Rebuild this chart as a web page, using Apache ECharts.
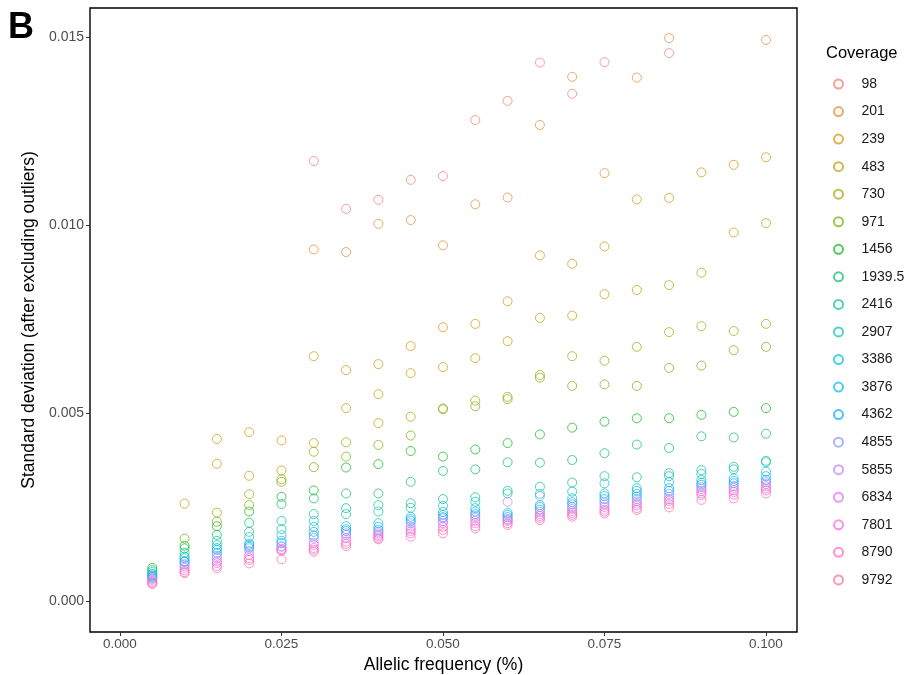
<!DOCTYPE html>
<html>
<head>
<meta charset="utf-8">
<script src="https://cdn.jsdelivr.net/npm/echarts@6/dist/echarts.min.js"></script>
<style>html,body{margin:0;padding:0;background:#fff}#c{width:909px;height:675px}</style>
</head>
<body>
<div id="c"></div>
<script>
const freqs = [0.005,0.010,0.015,0.020,0.025,0.030,0.035,0.040,0.045,0.050,0.055,0.060,0.065,0.070,0.075,0.080,0.085,0.090,0.095,0.100];
const coverages = ['98','201','239','483','730','971','1456','1939.5','2416','2907','3386','3876','4362','4855','5855','6834','7801','8790','9792'];
const xTicks = [0, 0.025, 0.05, 0.075, 0.1];
const yTicks = [0, 0.005, 0.010, 0.015];

const sd98   = [null,null,null,null,null,0.01170,0.01043,0.01067,0.01120,0.01130,0.01279,0.01330,0.01432,0.01349,0.01433,null,0.01457,null,null,null];
const sd201  = [null,null,null,null,null,0.00935,0.00928,0.01003,0.01013,0.00946,0.01055,0.01073,0.01266,0.01394,0.01138,0.01392,0.01497,null,null,0.01492];
const sd239  = [null,null,0.00431,0.00449,0.00427,0.00651,0.00614,0.00630,0.00678,0.00728,0.00737,0.00797,0.00919,0.00897,0.00943,0.01068,0.01072,0.01140,0.01160,0.01180];
const sd483  = [null,null,0.00365,0.00333,0.00347,0.00420,0.00513,0.00550,0.00606,0.00622,0.00646,0.00691,0.00753,0.00759,0.00816,0.00827,0.00840,0.00873,0.00980,0.01005];
const sd730  = [null,0.00259,0.00235,0.00284,0.00324,0.00397,0.00422,0.00473,0.00490,0.00512,0.00533,0.00543,0.00601,0.00651,0.00639,0.00676,0.00715,0.00731,0.00718,0.00737];
const sd971  = [null,0.00166,0.00211,0.00255,0.00317,0.00356,0.00384,0.00415,0.00440,0.00510,0.00518,0.00537,0.00594,0.00572,0.00576,0.00572,0.00620,0.00626,0.00667,0.00676];
const sd1456 = [0.00088,0.00147,0.00199,0.00238,0.00277,0.00294,0.00355,0.00364,0.00399,0.00384,0.00403,0.00420,0.00443,0.00461,0.00477,0.00486,0.00486,0.00495,0.00503,0.00513];
const sd1939 = [0.00082,0.00140,0.00176,0.00208,0.00258,0.00273,0.00286,0.00286,0.00317,0.00346,0.00350,0.00369,0.00368,0.00375,0.00393,0.00416,0.00407,0.00438,0.00435,0.00445];
const sd2416 = [0.00077,0.00128,0.00160,0.00184,0.00213,0.00231,0.00247,0.00255,0.00260,0.00271,0.00276,0.00293,0.00304,0.00315,0.00332,0.00329,0.00340,0.00348,0.00357,0.00373];
const sd2907 = [0.00072,0.00118,0.00149,0.00170,0.00191,0.00213,0.00231,0.00238,0.00248,0.00253,0.00264,0.00286,0.00285,0.00291,0.00313,0.00300,0.00332,0.00338,0.00350,0.00369];
const sd3386 = [0.00069,0.00114,0.00141,0.00153,0.00175,0.00197,0.00199,0.00207,0.00224,0.00237,0.00247,0.00234,0.00255,0.00273,0.00286,0.00293,0.00316,0.00322,0.00326,0.00344];
const sd3876 = [0.00066,0.00106,0.00136,0.00149,0.00160,0.00184,0.00191,0.00197,0.00218,0.00229,0.00238,0.00229,0.00250,0.00263,0.00279,0.00285,0.00300,0.00314,0.00319,0.00332];
const sd4362 = [0.00064,0.00104,0.00128,0.00144,0.00154,0.00174,0.00186,0.00189,0.00213,0.00223,0.00231,0.00223,0.00243,0.00257,0.00271,0.00278,0.00293,0.00309,0.00313,0.00322];
const sd4855 = [0.00061,0.00098,0.00120,0.00140,0.00146,0.00168,0.00180,0.00184,0.00207,0.00220,0.00226,0.00218,0.00279,0.00250,0.00263,0.00271,0.00285,0.00303,0.00306,0.00316];
const sd5855 = [0.00059,0.00093,0.00114,0.00133,0.00144,0.00155,0.00176,0.00180,0.00198,0.00213,0.00221,0.00264,0.00237,0.00245,0.00257,0.00265,0.00277,0.00298,0.00301,0.00311];
const sd6834 = [0.00056,0.00088,0.00106,0.00122,0.00138,0.00149,0.00167,0.00176,0.00191,0.00207,0.00213,0.00216,0.00231,0.00239,0.00250,0.00259,0.00271,0.00293,0.00295,0.00305];
const sd7801 = [0.00051,0.00082,0.00101,0.00114,0.00136,0.00141,0.00158,0.00172,0.00186,0.00197,0.00207,0.00213,0.00226,0.00234,0.00243,0.00254,0.00266,0.00287,0.00290,0.00299];
const sd8790 = [0.00048,0.00077,0.00093,0.00109,0.00133,0.00136,0.00152,0.00167,0.00180,0.00189,0.00199,0.00207,0.00221,0.00229,0.00238,0.00247,0.00258,0.00282,0.00283,0.00294];
const sd9792 = [0.00045,0.00074,0.00087,0.00100,0.00111,0.00131,0.00146,0.00164,0.00171,0.00180,0.00193,0.00202,0.00215,0.00224,0.00233,0.00242,0.00249,0.00269,0.00273,0.00286];

const allSeries = [sd98,sd201,sd239,sd483,sd730,sd971,sd1456,sd1939,sd2416,sd2907,sd3386,sd3876,sd4362,sd4855,sd5855,sd6834,sd7801,sd8790,sd9792];

// ggplot2 default hue palette (HCL, c=100, l=65)
function hcl(h, c, l) {
  const hr = h * Math.PI / 180;
  const u = c * Math.cos(hr), v = c * Math.sin(hr);
  const Xn = 95.047, Yn = 100, Zn = 108.883;
  const den = Xn + 15 * Yn + 3 * Zn;
  const un = 4 * Xn / den, vn = 9 * Yn / den;
  const Y = l > 8 ? Yn * Math.pow((l + 16) / 116, 3) : Yn * l / 903.3;
  const up = u / (13 * l) + un, vp = v / (13 * l) + vn;
  const X = Y * 9 * up / (4 * vp);
  const Z = Y * (12 - 3 * up - 20 * vp) / (4 * vp);
  const x = X / 100, y = Y / 100, z = Z / 100;
  let r = 3.2404542 * x - 1.5371385 * y - 0.4985314 * z;
  let g = -0.9692660 * x + 1.8760108 * y + 0.0415560 * z;
  let b = 0.0556434 * x - 0.2040259 * y + 1.0572252 * z;
  const gam = t => { t = t <= 0.0031308 ? 12.92 * t : 1.055 * Math.pow(t, 1 / 2.4) - 0.055; return Math.round(Math.max(0, Math.min(1, t)) * 255); };
  return 'rgb(' + gam(r) + ',' + gam(g) + ',' + gam(b) + ')';
}
const n = coverages.length;
const colors = coverages.map((_, i) => hcl(15 + 360 * i / n, 100, 65));

const series = coverages.map((name, i) => ({
  name: name,
  type: 'scatter',
  symbol: 'circle',
  symbolSize: 9,
  itemStyle: { color: 'rgba(0,0,0,0)', borderColor: colors[i], borderWidth: 1, opacity: 0.7 },
  data: freqs.map((f, j) => allSeries[i][j] == null ? null : [f, allSeries[i][j]]).filter(d => d)
}));

const chart = echarts.init(document.getElementById('c'), null, { renderer: 'canvas' });
const font = 'Liberation Sans, Arial, sans-serif';
chart.setOption({
  animation: false,
  backgroundColor: '#fff',
  title: { text: 'Coverage', left: 821, top: 40, textStyle: { fontFamily: font, fontSize: 16.5, fontWeight: 'normal', color: '#000' } },
  graphic: [{ type: 'text', left: 8, top: 10, style: { text: 'B', font: 'bold 36px ' + font, fill: '#000' } }],
  legend: {
    orient: 'vertical', left: 828, top: 72,
    itemWidth: 36, itemHeight: 9, itemGap: 13.55,
    icon: 'circle',
    textStyle: { fontFamily: font, fontSize: 14, color: '#1a1a1a' },
    data: coverages
  },
  grid: { left: 90, right: 112, top: 8, bottom: 43, show: true, borderColor: '#000', borderWidth: 1.4, backgroundColor: 'transparent', outerBoundsMode: 'none', containLabel: false },
  xAxis: {
    type: 'value', min: -0.00464, max: 0.1048,
    name: 'Allelic frequency (%)', nameLocation: 'middle', nameGap: 21,
    nameTextStyle: { fontFamily: font, fontSize: 17.5, color: '#000' },
    splitLine: { show: false },
    axisLine: { show: false, onZero: false },
    axisTick: { show: true, length: 4, lineStyle: { color: '#333' }, customValues: xTicks },
    axisLabel: { customValues: xTicks, formatter: v => v.toFixed(3), fontFamily: font, fontSize: 13.5, color: '#4d4d4d', margin: 5 }
  },
  yAxis: {
    type: 'value', min: -0.000824, max: 0.01577,
    name: 'Standard deviation (after excluding outliers)', nameLocation: 'middle', nameGap: 50,
    nameTextStyle: { fontFamily: font, fontSize: 17.5, color: '#000' },
    splitLine: { show: false },
    axisLine: { show: false, onZero: false },
    axisTick: { show: true, length: 4, lineStyle: { color: '#333' }, customValues: yTicks },
    axisLabel: { customValues: yTicks, formatter: v => v.toFixed(3), fontFamily: font, fontSize: 14, color: '#4d4d4d', margin: 6 }
  },
  series: series
});
</script>
</body>
</html>
